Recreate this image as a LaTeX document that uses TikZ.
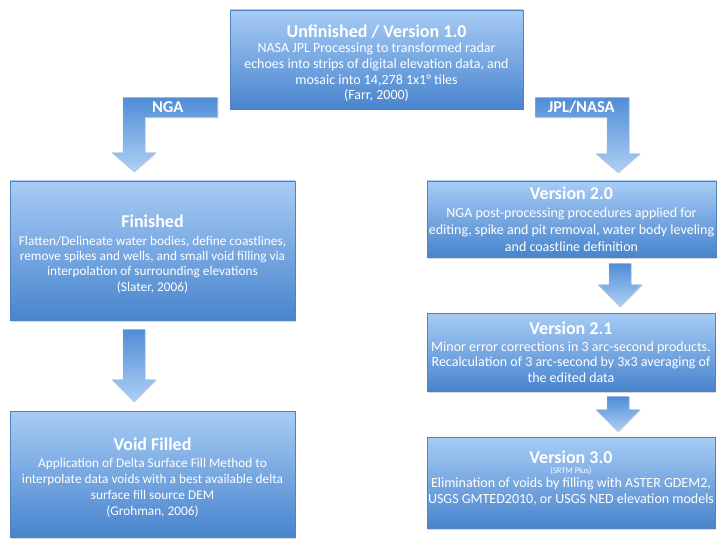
\documentclass[tikz,border=0pt]{standalone}
\usepackage{fontspec}
\setmainfont{Carlito}
\usetikzlibrary{calc,shadows}
\definecolor{boxtop}{RGB}{168,204,245}
\definecolor{boxbot}{RGB}{72,132,205}
\definecolor{boxline}{RGB}{80,130,192}
\definecolor{arrtop}{RGB}{80,141,214}
\definecolor{arrbot}{RGB}{174,208,244}
\newcommand\boxtitle[2][0]{{\fontsize{18}{20}\selectfont\bfseries\rule{0pt}{#1pt}#2}}

\begin{document}
\begin{tikzpicture}[x=1pt, y=-1pt,
    B/.style 2 args = {rectangle, draw=boxline, line width=0.6pt,% styles of the boxes
                top color=boxtop, bottom color=boxbot,
                text=white, align=center, inner sep=0pt,
                font=\fontsize{#1}{#2}\selectfont,
                drop shadow={shadow xshift=1pt, shadow yshift=-1.5pt, opacity=0.3}},
    A/.style = {top color=arrtop, bottom color=arrbot,% styles of the block arrows
                draw=boxline!50, line width=0.3pt,
                drop shadow={shadow xshift=0.8pt, shadow yshift=-1pt, opacity=0.2}},
    L/.style = {text=white, font=\fontsize{16.5}{16.5}\selectfont\bfseries},
                        ]
\useasboundingbox[fill=white] (0,0) rectangle (720,540);
% boxes
\node[B={14}{15.7}, minimum width=293pt, minimum height=99pt] (top) at (376.5,59.5)
    {\boxtitle[20]{Unfinished / Version 1.0}\\NASA JPL Processing to transformed radar\\
     echoes into strips of digital elevation data, and\\mosaic into 14,278 1x1° tiles\\(Farr, 2000)};
\node[B={13.3}{15.3}, minimum width=285pt, minimum height=139pt] (fin) at (152.5,250.5)
    {\boxtitle[20]{Finished}\\[2pt]Flatten/Delineate water bodies, define coastlines,\\
     remove spikes and wells, and small void filling via\\interpolation of surrounding elevations\\(Slater, 2006)};
\node[B={13.3}{16}, minimum width=285pt, minimum height=126pt] (void) at (152.5,474)
    {\boxtitle[20]{Void Filled}\\[0.5pt]Application of Delta Surface Fill Method to\\
     interpolate data voids with a best available delta\\surface fill source DEM\\(Grohman, 2006)};
\node[B={14}{16.7}, minimum width=289pt, minimum height=76pt] (v20) at (571.5,219)
    {\boxtitle{Version 2.0}\\[2pt]NGA post-processing procedures applied for\\
     editing, spike and pit removal, water body leveling\\and coastline definition};
\node[B={14}{15.5}, minimum width=288pt, minimum height=78pt] (v21) at (571,352)
    {\boxtitle{Version 2.1}\\[1pt]Minor error corrections in 3 arc-second products.\\
     Recalculation of 3 arc-second by 3x3 averaging of\\the edited data};
\node[B={14}{16}, minimum width=288pt, minimum height=91pt] (v30) at (571,482.5)
    {\boxtitle{Version 3.0}\\[-6pt]{\fontsize{8.5}{10}\selectfont (SRTM Plus)}\\[-1.5pt]
     Elimination of voids by filling with ASTER GDEM2,\\USGS GMTED2010, or USGS NED elevation models\rule[-11pt]{0pt}{11pt}};
% bent arrows
\path[A] ($(top.south west)+(-12,-12)$) -| ($(fin.north)+(-29.5,-28)$) -- ++(-11,0)
    -- ($(fin.north)+(-18.5,-9)$) -- ++(22,-19) -- ++(-11,0) |- ($(top.south west)+(-12,8)$) -- cycle;
\node[L] (nga) at ($(top.south west)+(-62,-2)$) {NGA};
\path[A] ($(top.south east)+(12,-12)$) -| ($(v20.north)+(57.5,-27)$) -- ++(11,0)
    -- ($(v20.north)+(46.5,-8)$) -- ++(-22,-19) -- ++(11,0) |- ($(top.south east)+(12,8)$) -- cycle;
\node[L] (jpl) at ($(top.south east)+(58,-2)$) {JPL/NASA};
% straight arrows
\foreach \x/\f/\t/\g in {134/fin/void/9, 620/v20/v21/6, 618/v21/v30/5}
    \path[A] ($(\x,0 |- \f.south)+(-11,\g)$) -- ($(\x,0 |- \t.north)+(-11,-\g-22)$) -- ++(-11,0)
        -- ($(\x,0 |- \t.north)+(0,-\g)$) -- ++(22,-22) -- ++(-11,0) -- ($(\x,0 |- \f.south)+(11,\g)$) -- cycle;
\end{tikzpicture}
\end{document}
